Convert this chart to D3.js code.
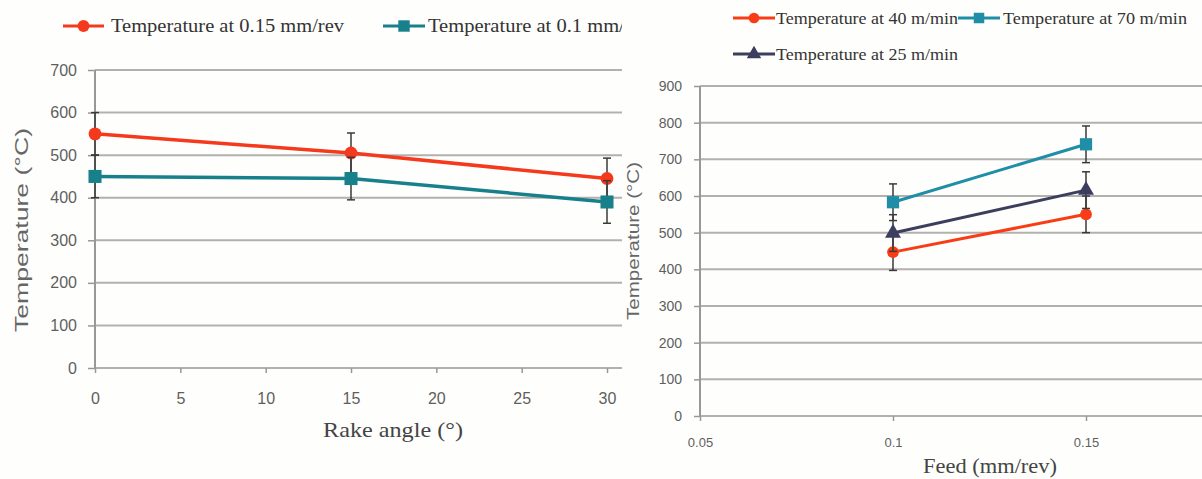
<!DOCTYPE html>
<html>
<head>
<meta charset="utf-8">
<script src="https://cdn.jsdelivr.net/npm/d3@7"></script>
<style>
  html, body { margin: 0; padding: 0; background: #fefefc; }
  svg { display: block; }
  .tick text { fill: #5e5e5e; font-family: "Liberation Sans", Arial, sans-serif; }
</style>
</head>
<body>
<svg id="chart" width="1202" height="479"></svg>
<script>
// ---- Left panel: temperature vs rake angle ----
const rakeAngles = [0, 15, 30];
const tempFeed015 = [550, 505, 445];
const errFeed015 = [50, 47, 48];
const tempFeed01 = [450, 445, 390];
const errFeed01 = [50, 50, 50];
const rakeTicks = [0, 5, 10, 15, 20, 25, 30];
const leftTempTicks = [0, 100, 200, 300, 400, 500, 600, 700];

// ---- Right panel: temperature vs feed ----
const feeds = [0.1, 0.15];
const temp40 = [447, 550];
const err40 = [50, 50];
const temp70 = [583, 741];
const err70 = [50, 50];
const temp25 = [499, 616];
const err25 = [50, 50];
const feedTicks = [0.05, 0.1, 0.15];
const feedTickLabels = ["0.05", "0.1", "0.15"];
const rightTempTicks = [0, 100, 200, 300, 400, 500, 600, 700, 800, 900];

const svg = d3.select("#chart");
const defs = svg.append("defs");
defs.append("clipPath").attr("id", "clipLeft")
  .append("rect").attr("x", 0).attr("y", 0).attr("width", 622).attr("height", 479);
defs.append("clipPath").attr("id", "clipRight")
  .append("rect").attr("x", 622).attr("y", 0).attr("width", 580).attr("height", 479);

const GRID = "#b3b1ae";
const ERR = "#3a3a3a";

function drawSeries(g, x, y, xs, ys, errs, color, shape, size, lw) {
  // connecting line
  g.append("path")
    .datum(xs.map((d, i) => [d, ys[i]]))
    .attr("fill", "none")
    .attr("stroke", color)
    .attr("stroke-width", lw)
    .attr("stroke-linejoin", "round")
    .attr("d", d3.line().x(d => x(d[0])).y(d => y(d[1])));
  // error bars
  xs.forEach((d, i) => {
    const cx = x(d), lo = y(ys[i] - errs[i]), hi = y(ys[i] + errs[i]);
    g.append("line").attr("x1", cx).attr("x2", cx).attr("y1", lo).attr("y2", hi)
      .attr("stroke", ERR).attr("stroke-width", 1.5);
    [lo, hi].forEach(v => g.append("line")
      .attr("x1", cx - 4).attr("x2", cx + 4).attr("y1", v).attr("y2", v)
      .attr("stroke", ERR).attr("stroke-width", 1.5));
  });
  // markers
  g.selectAll(null).data(xs.map((d, i) => [d, ys[i]])).enter()
    .append("path")
    .attr("transform", d => `translate(${x(d[0])},${y(d[1])})`)
    .attr("d", d3.symbol().type(shape).size(size))
    .attr("fill", color);
}

function legendItem(g, x0, x1, yy, color, shape, size, label, tx, tlen, fs) {
  g.append("line").attr("x1", x0).attr("x2", x1).attr("y1", yy).attr("y2", yy)
    .attr("stroke", color).attr("stroke-width", 3);
  g.append("path").attr("transform", `translate(${(x0 + x1) / 2},${yy})`)
    .attr("d", d3.symbol().type(shape).size(size)).attr("fill", color);
  g.append("text").attr("x", tx).attr("y", yy).attr("dy", "0.33em")
    .attr("font-family", "'Liberation Serif', 'Times New Roman', serif")
    .attr("font-size", fs).attr("fill", "#333")
    .attr("textLength", tlen).attr("lengthAdjust", "spacingAndGlyphs")
    .text(label);
}

// ================= Left panel =================
const L = svg.append("g").attr("clip-path", "url(#clipLeft)");
const xL = d3.scaleLinear().domain([0, 30]).range([95, 607]);
const yL = d3.scaleLinear().domain([0, 700]).range([368, 70]);
const leftGridEnd = 640;

// horizontal gridlines
L.append("g").selectAll("line").data(leftTempTicks).enter().append("line")
  .attr("x1", 95).attr("x2", leftGridEnd)
  .attr("y1", d => yL(d)).attr("y2", d => yL(d))
  .attr("stroke", GRID).attr("stroke-width", 2);
// vertical axis line
L.append("line").attr("x1", 95).attr("x2", 95).attr("y1", yL(700)).attr("y2", yL(0))
  .attr("stroke", "#9a9896").attr("stroke-width", 2);

const yAxL = L.append("g").attr("transform", "translate(95,0)")
  .call(d3.axisLeft(yL).tickValues(leftTempTicks).tickSize(7).tickPadding(11));
yAxL.select(".domain").remove();
yAxL.selectAll(".tick line").attr("stroke", "#9a9896").attr("stroke-width", 1.5);
yAxL.selectAll(".tick text").attr("font-size", 16);

const xAxL = L.append("g").attr("transform", `translate(0,${yL(0)})`)
  .call(d3.axisBottom(xL).tickValues(rakeTicks).tickSize(5).tickPadding(20));
xAxL.select(".domain").remove();
xAxL.selectAll(".tick line").attr("stroke", "#9a9896").attr("stroke-width", 1.5);
xAxL.selectAll(".tick text").attr("font-size", 16);

drawSeries(L, xL, yL, rakeAngles, tempFeed015, errFeed015, "#f4391c", d3.symbolCircle, 130, 3.5);
drawSeries(L, xL, yL, rakeAngles, tempFeed01, errFeed01, "#17808b", d3.symbolSquare, 170, 3.5);

// axis titles
L.append("text").attr("x", 393).attr("y", 437).attr("text-anchor", "middle")
  .attr("font-family", "'Liberation Serif', 'Times New Roman', serif")
  .attr("font-size", 22).attr("fill", "#444")
  .attr("textLength", 140).attr("lengthAdjust", "spacingAndGlyphs")
  .text("Rake angle (°)");
L.append("text").attr("transform", "translate(28,230) rotate(-90)")
  .attr("text-anchor", "middle")
  .attr("font-family", "'Liberation Sans', Arial, sans-serif")
  .attr("font-size", 18).attr("fill", "#666")
  .attr("textLength", 204).attr("lengthAdjust", "spacingAndGlyphs")
  .text("Temperature (°C)");

// legend
legendItem(L, 63, 104, 26, "#f4391c", d3.symbolCircle, 110,
  "Temperature at 0.15 mm/rev", 111, 233, 19);
legendItem(L, 383, 425, 26, "#17808b", d3.symbolSquare, 130,
  "Temperature at 0.1 mm/rev", 428, 223, 19);

// ================= Right panel =================
const R = svg.append("g").attr("clip-path", "url(#clipRight)");
const xR = d3.scaleLinear().domain([0.05, 0.15]).range([700, 1086]);
const yR = d3.scaleLinear().domain([0, 900]).range([416, 86]);

R.append("g").selectAll("line").data(rightTempTicks).enter().append("line")
  .attr("x1", 700).attr("x2", 1210)
  .attr("y1", d => yR(d)).attr("y2", d => yR(d))
  .attr("stroke", GRID).attr("stroke-width", 2);
R.append("line").attr("x1", 700).attr("x2", 700).attr("y1", yR(900)).attr("y2", yR(0))
  .attr("stroke", "#9a9896").attr("stroke-width", 2);

const yAxR = R.append("g").attr("transform", "translate(700,0)")
  .call(d3.axisLeft(yR).tickValues(rightTempTicks).tickSize(6).tickPadding(12));
yAxR.select(".domain").remove();
yAxR.selectAll(".tick line").attr("stroke", "#9a9896").attr("stroke-width", 1.5);
yAxR.selectAll(".tick text").attr("font-size", 14);

const xAxR = R.append("g").attr("transform", `translate(0,${yR(0)})`)
  .call(d3.axisBottom(xR).tickValues(feedTicks)
    .tickFormat((d, i) => feedTickLabels[i]).tickSize(5).tickPadding(17));
xAxR.select(".domain").remove();
xAxR.selectAll(".tick line").attr("stroke", "#9a9896").attr("stroke-width", 1.5);
xAxR.selectAll(".tick text").attr("font-size", 13);

drawSeries(R, xR, yR, feeds, temp40, err40, "#f83d16", d3.symbolCircle, 110, 3);
drawSeries(R, xR, yR, feeds, temp70, err70, "#1f8ea6", d3.symbolSquare, 150, 3);
drawSeries(R, xR, yR, feeds, temp25, err25, "#3c3e5e", d3.symbolTriangle, 110, 3);

R.append("text").attr("x", 990).attr("y", 473).attr("text-anchor", "middle")
  .attr("font-family", "'Liberation Serif', 'Times New Roman', serif")
  .attr("font-size", 20).attr("fill", "#444")
  .attr("textLength", 134).attr("lengthAdjust", "spacingAndGlyphs")
  .text("Feed (mm/rev)");
R.append("text").attr("transform", "translate(639,241) rotate(-90)")
  .attr("text-anchor", "middle")
  .attr("font-family", "'Liberation Sans', Arial, sans-serif")
  .attr("font-size", 16).attr("fill", "#666")
  .attr("textLength", 158).attr("lengthAdjust", "spacingAndGlyphs")
  .text("Temperature (°C)");

legendItem(R, 733, 775, 18, "#f83d16", d3.symbolCircle, 90,
  "Temperature at 40 m/min", 776, 182, 17);
legendItem(R, 958, 1000, 18, "#1f8ea6", d3.symbolSquare, 110,
  "Temperature at 70 m/min", 1003, 184, 17);
legendItem(R, 733, 775, 54, "#3c3e5e", d3.symbolTriangle, 90,
  "Temperature at 25 m/min", 776, 182, 17);
</script>
</body>
</html>
